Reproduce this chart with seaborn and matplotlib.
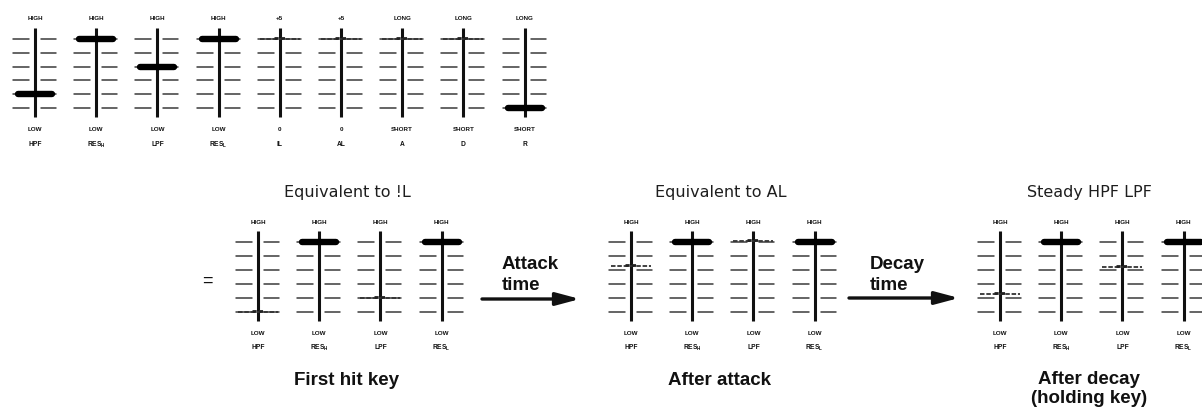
import matplotlib
matplotlib.use("Agg")
import matplotlib.pyplot as plt
import seaborn as sns
import pandas as pd

# ---------------- data ----------------
top_names = ["HPF", "RES$_\\mathregular{H}$", "LPF", "RES$_\\mathregular{L}$", "IL", "AL", "A", "D", "R"]
top_high = ["HIGH", "HIGH", "HIGH", "HIGH", "+5", "+5", "LONG", "LONG", "LONG"]
top_low = ["LOW", "LOW", "LOW", "LOW", "0", "0", "SHORT", "SHORT", "SHORT"]
top_levels = [1, 5, 3, 5, 5, 5, 5, 5, 0]          # 0 = LOW ... 5 = HIGH
top_fuzzy = [False, False, False, False, True, True, True, True, False]

grp_names = ["HPF", "RES$_\\mathregular{H}$", "LPF", "RES$_\\mathregular{L}$"]
grp_titles = ["Equivalent to !L", "Equivalent to AL", "Steady HPF LPF"]
grp_captions = ["First hit key", "After attack", "After decay\n(holding key)"]
grp_levels = [[0, 5, 1, 5],
              [3.3, 5, 5.1, 5],
              [1.3, 5, 3.2, 5]]
grp_fuzzy = [[True, False, True, False],
             [True, False, True, False],
             [True, False, True, False]]
arrow_labels = ["Attack\ntime", "Decay\ntime"]

# ---------------- layout ----------------
W, H = 1202, 410
sns.set_theme(style="white")
plt.rcParams["font.family"] = ["Liberation Sans", "DejaVu Sans"]

fig = plt.figure(figsize=(W / 100, H / 100), dpi=100)
ax = fig.add_axes([0, 0, 1, 1])
ax.set_xlim(0, W)
ax.set_ylim(H, 0)
ax.axis("off")

INK = "#111111"


def slider(cx, y_top_tick, step, level, fuzzy, high, low, name, y_high, y_low, y_name):
    y_bottom_tick = y_top_tick + 5 * step
    # track
    ax.plot([cx, cx], [y_top_tick - 11, y_bottom_tick + 9], color=INK, lw=2.2,
            solid_capstyle="butt", zorder=3)
    # tick dashes
    rows = []
    for i in range(6):
        y = y_top_tick + i * step
        rows.append({"x": cx - 22, "y": y, "seg": f"L{i}"})
        rows.append({"x": cx - 6, "y": y, "seg": f"L{i}"})
        rows.append({"x": cx + 6, "y": y, "seg": f"R{i}"})
        rows.append({"x": cx + 21, "y": y, "seg": f"R{i}"})
    df = pd.DataFrame(rows)
    sns.lineplot(data=df, x="x", y="y", units="seg", estimator=None, sort=False,
                 color="#3a3a3a", lw=1.1, ax=ax, legend=False)
    # knob
    ky = y_bottom_tick - level * step
    if fuzzy:
        ax.plot([cx - 20, cx + 20], [ky, ky], color="#333333", lw=1.3,
                dashes=(2.5, 1.0), zorder=4)
        ax.plot([cx - 6, cx + 6], [ky - 0.8, ky - 0.8], color="#222222", lw=2.0,
                dashes=(1.5, 0.8), zorder=4)
    else:
        ax.plot([cx - 17, cx + 17], [ky, ky], color="black", lw=4.6,
                solid_capstyle="round", zorder=5)
    # labels
    ax.text(cx, y_high, high, ha="center", va="center", fontsize=4.5,
            fontweight="bold", color=INK)
    ax.text(cx, y_low, low, ha="center", va="center", fontsize=4.5,
            fontweight="bold", color=INK)
    ax.text(cx, y_name, name, ha="center", va="center", fontsize=4.8,
            fontweight="bold", color=INK)


# top row
for i in range(len(top_names)):
    slider(35 + i * 61.2, 40, 13.8, top_levels[i], top_fuzzy[i],
           top_high[i], top_low[i], top_names[i], 18, 130, 145)

# three groups
grp_x0 = [258, 631, 1000]
for g in range(3):
    for j in range(4):
        slider(grp_x0[g] + j * 61.2, 243, 14, grp_levels[g][j], grp_fuzzy[g][j],
               "HIGH", "LOW", grp_names[j], 223, 334, 348)
    cx_mid = grp_x0[g] + 1.5 * 61.2
    ax.text(cx_mid - 2, 193, grp_titles[g], ha="center", va="center",
            fontsize=11.5, color="#1e1e1e", family="DejaVu Sans")
    ax.text(cx_mid - 3, 381 if g < 2 else 389, grp_captions[g], ha="center",
            va="center", fontsize=13.5, fontweight="bold", color=INK,
            linespacing=1.2)

# equals sign
ax.text(207, 281, "=", ha="center", va="center", fontsize=13, color=INK)

# arrows
arrows = [(482, 580, 300, 502), (849, 959, 299, 870)]
for (x1, x2, y, tx), lab in zip(arrows, arrow_labels):
    ax.annotate("", xy=(x2, y), xytext=(x1, y),
                arrowprops=dict(arrowstyle="-|>,head_length=1.2,head_width=0.32",
                                lw=2.4, color=INK, shrinkA=0, shrinkB=0))
    ax.text(tx, 275, lab, ha="left", va="center", fontsize=13.5,
            fontweight="bold", color=INK, linespacing=1.3)

fig.savefig("out.png", dpi=100, facecolor="white")
